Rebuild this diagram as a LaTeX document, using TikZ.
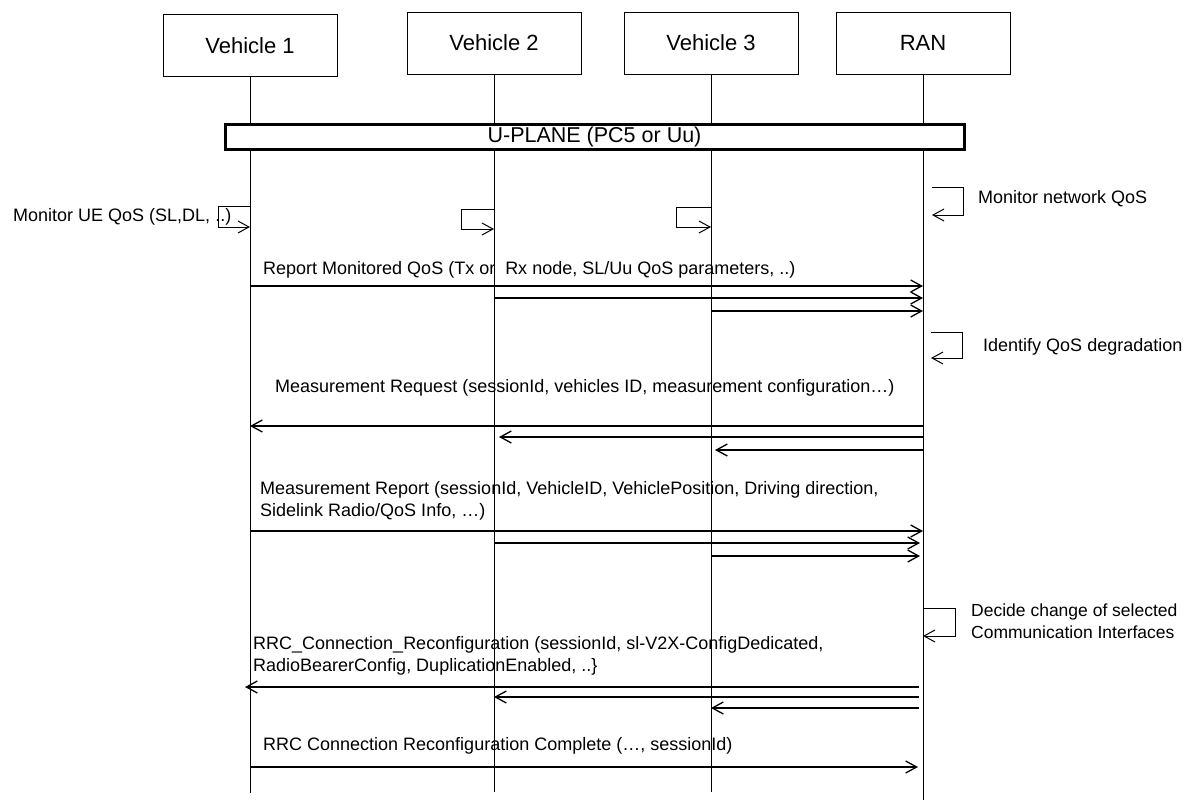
\documentclass[tikz,border=0pt]{standalone}
\usepackage{fontspec}
\setmainfont{Liberation Sans}
\usetikzlibrary{arrows.meta,positioning}

\begin{document}
\begin{tikzpicture}[
  x=1pt,y=-1pt,
  every node/.style={font=\fontsize{18}{22}\selectfont, inner sep=0pt},
  entity/.style={draw, line width=1pt, minimum width=174pt, minimum height=62pt, font=\fontsize{22}{26}\selectfont},
  plane/.style={draw, line width=3pt, fill=white, minimum width=739pt, minimum height=25pt, font=\fontsize{21.5}{26}\selectfont},
  life/.style={line width=1pt},
  msg/.style={line width=1.3pt, -{Straight Barb[length=11pt,width=12pt]}},
  selfmsg/.style={line width=1pt, -{Straight Barb[length=11pt,width=12pt]}},
  lbl/.style={anchor=west, align=left}
]
\useasboundingbox (0,0) rectangle (1183,804);

\node[entity] (v1) at (250,45.5) {Vehicle 1};
\node[entity] (v2) at (494,43) {Vehicle 2};
\node[entity] (v3) at (711,43) {Vehicle 3};
\node[entity] (ran) at (923,43) {RAN};

\foreach \n/\e in {v1/793,v2/792,v3/792,ran/800}
  \draw[life] (\n.south) -- (\n |- 0,\e);

\node[plane] (uplane) at (594.5,136.5) {U-PLANE (PC5 or Uu)};

% local monitoring
\draw[selfmsg] (v1 |- 0,206) -- ++(-32,0) -- ++(0,21) -- (v1 |- 0,227);
\draw[selfmsg] (v2 |- 0,209) -- ++(-33,0) -- ++(0,20) -- (v2 |- 0,229);
\draw[selfmsg] (v3 |- 0,207) -- ++(-35,0) -- ++(0,20) -- (v3 |- 0,227);
\node[lbl] (monue) at (13,217) {Monitor UE QoS (SL,DL, ..)};

\draw[selfmsg] (ran |- 0,187) ++(9,0) -- ++(31,0) -- ++(0,28) -- ++(-31,0);
\node[lbl] (monnet) at (978,199) {Monitor network QoS};

% reports
\node[lbl] (rep) at (263,270) {Report Monitored QoS (Tx or\ \ Rx node, SL/Uu QoS parameters, ..)};
\foreach \n/\y in {v1/286,v2/298,v3/311}
  \draw[msg] (\n |- 0,\y) -- (ran |- 0,\y);

\draw[selfmsg] (ran |- 0,332) ++(8,0) -- ++(31,0) -- ++(0,26) -- ++(-31,0);
\node[lbl] (ident) at (983,347) {Identify QoS degradation};

\node[lbl] (req) at (275,388) {Measurement Request (sessionId, vehicles ID, measurement configuration…)};
\foreach \n/\y/\s in {v1/426/0pt,v2/437/5pt,v3/450/4pt}
  \draw[msg, shorten >=\s] (ran |- 0,\y) -- (\n |- 0,\y);

\node[lbl] (mrep) at (260,501) {Measurement Report (sessionId, VehicleID, VehiclePosition, Driving direction,\\Sidelink Radio/QoS Info, …)};
\foreach \n/\y/\s in {v1/531/0pt,v2/543/3pt,v3/556/3pt}
  \draw[msg, shorten >=\s] (\n |- 0,\y) -- (ran |- 0,\y);

\draw[selfmsg] (ran |- 0,608) -- ++(32,0) -- ++(0,28) -- (ran |- 0,636);
\node[lbl, font=\fontsize{17.5}{22}\selectfont] (decide) at (971,621) {Decide change of selected\\Communication Interfaces};

% reconfiguration
\node[lbl] (rrc) at (253,656) {RRC\_Connection\_Reconfiguration (sessionId, sl-V2X-ConfigDedicated,\\RadioBearerConfig, DuplicationEnabled, ..\}};
\foreach \n/\y/\s in {v1/687/-5pt,v2/697/0pt,v3/708/0pt}
  \draw[msg, shorten <=4pt, shorten >=\s] (ran |- 0,\y) -- (\n |- 0,\y);

\node[lbl] (done) at (263,746) {RRC Connection Reconfiguration Complete (…, sessionId)};
\draw[msg, shorten >=5pt] (v1 |- 0,767) -- (ran |- 0,767);
\end{tikzpicture}
\end{document}
